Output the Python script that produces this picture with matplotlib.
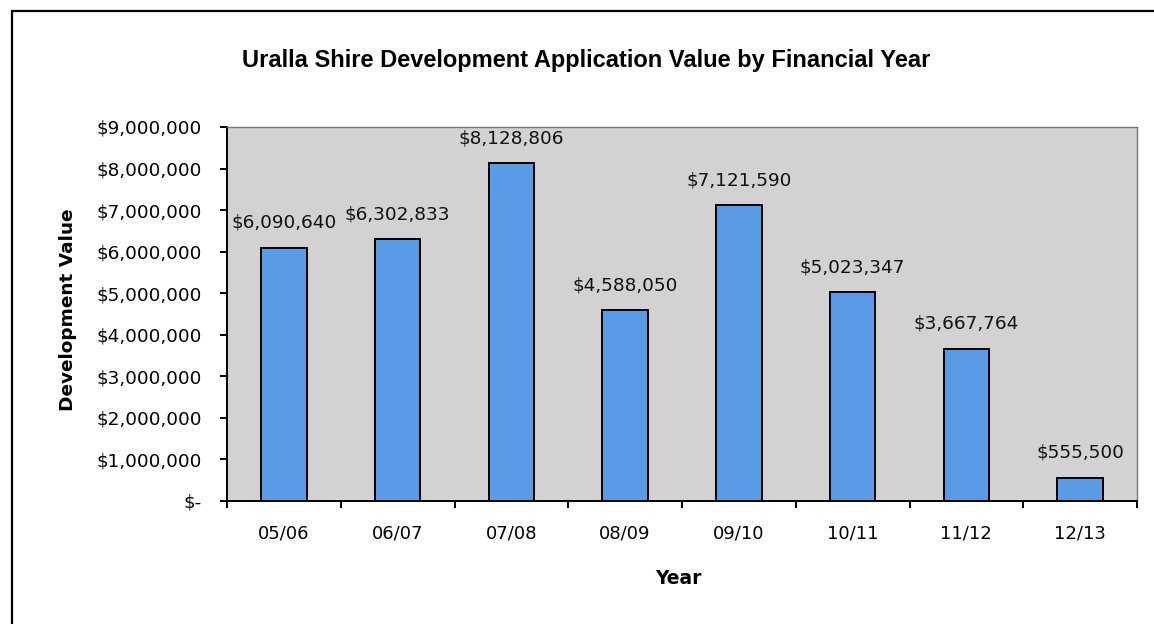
import matplotlib
matplotlib.use("Agg")
import matplotlib.pyplot as plt
import matplotlib.patches as patches
from matplotlib.ticker import FuncFormatter, FixedLocator

years = ["05/06", "06/07", "07/08", "08/09", "09/10", "10/11", "11/12", "12/13"]
values = [6090640, 6302833, 8128806, 4588050, 7121590, 5023347, 3667764, 555500]
y_ticks = [0, 1000000, 2000000, 3000000, 4000000, 5000000, 6000000, 7000000, 8000000, 9000000]

plt.rcParams['font.family'] = ['DejaVu Sans']


def money(v, pos=None):
    if v == 0:
        return "$-"
    return "${:,.0f}".format(v)


W, H = 1154, 624
fig = plt.figure(figsize=(W / 100, H / 100), dpi=100)
fig.patch.set_facecolor("white")

# outer chart border (right and bottom edges fall outside the picture)
border = patches.Rectangle((12 / W, -0.2), 1.2, 1.2 - 11 / H, transform=fig.transFigure,
                           fill=False, edgecolor="black", linewidth=1.6, clip_on=False)
fig.patches.append(border)

ax = fig.add_axes([227 / W, 1 - 501 / H, 910 / W, 374 / H])
ax.set_facecolor("#d3d1d1")

x = list(range(len(years)))
ax.bar(x, values, width=0.4, color="#5a9be6", edgecolor="black", linewidth=1.4, zorder=3)

for xi, v in zip(x, values):
    ax.annotate(money(v), (xi, v), xytext=(0, 18), textcoords="offset points",
                ha="center", va="center", fontsize=13.3, color="#111111")

ax.set_xlim(-0.5, len(years) - 0.5)
ax.set_ylim(0, 9000000)
ax.yaxis.set_major_locator(FixedLocator(y_ticks))
ax.yaxis.set_major_formatter(FuncFormatter(money))
ax.set_xticks(x)
ax.set_xticklabels(years)
ax.set_xticks([i - 0.5 for i in range(len(years) + 1)], minor=True)
ax.tick_params(axis="x", which="major", length=0, pad=17, labelsize=13)
ax.tick_params(axis="x", which="minor", length=5, width=1.4, direction="out")
ax.tick_params(axis="y", length=5, width=1.4, direction="out", pad=13, labelsize=13.3)

for s in ["left", "bottom"]:
    ax.spines[s].set_linewidth(1.4)
    ax.spines[s].set_color("black")
for s in ["top", "right"]:
    ax.spines[s].set_linewidth(1.0)
    ax.spines[s].set_color("#777777")

fig.text(678 / W, 1 - 578 / H, "Year", ha="center", va="center",
         fontsize=13.5, fontweight="bold")
fig.text(68 / W, 1 - 310 / H, "Development Value", ha="center", va="center",
         rotation=90, fontsize=13.3, fontweight="bold")
fig.text(586 / W, 1 - 60 / H, "Uralla Shire Development Application Value by Financial Year",
         ha="center", va="center", fontsize=17, fontweight="bold",
         family=["Liberation Sans", "DejaVu Sans"])

fig.savefig("out.png", dpi=100)
